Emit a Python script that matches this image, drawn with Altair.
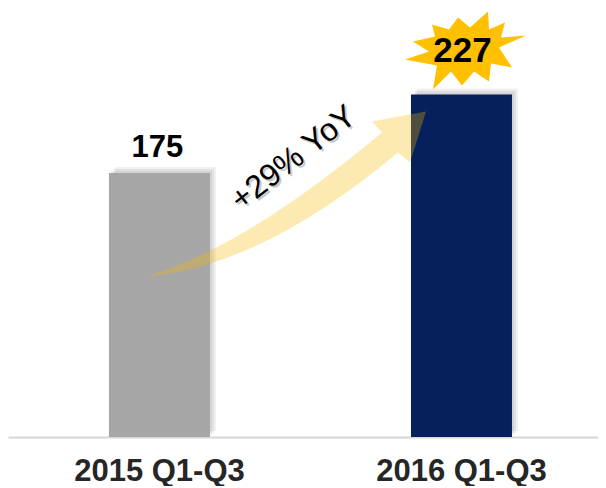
import altair as alt
import pandas as pd

# ---- data ----
periods = ["2015 Q1-Q3", "2016 Q1-Q3"]
values = [175, 227]
bar_colors = ["#a6a6a6", "#05205c"]
growth_text = "+29% YoY"

df = pd.DataFrame({"period": periods, "value": values})

FONT = "Liberation Sans"

# decorative shapes (symbol paths in the [-1, 1] unit box)
ARROW = ("M -1.007 0.586 Q -0.179 0.521 0.8 -0.3 L 0.886 -0.229 L 1 -0.593 "
         "L 0.614 -0.521 L 0.686 -0.443 Q -0.314 0.393 -1.007 0.586 Z")
_star_px = [(59, -14), (32, -2), (45, 18), (24, 14), (22, 32), (7, 22), (-5, 36),
            (-16, 22), (-34, 40), (-30, 16), (-62, 10), (-38, 2), (-54, -8),
            (-32, -13), (-35, -25), (-18, -20), (-9, -32), (3, -22), (21, -38),
            (22, -20), (38, -27), (34, -12)]
STAR = "M " + " L ".join(f"{x/60:.3f} {y/60:.3f}" for x, y in _star_px) + " Z"

x_enc = alt.X(
    "period:N", sort=periods,
    scale=alt.Scale(paddingInner=0.6656, paddingOuter=0.3096, align=0.54),
    axis=alt.Axis(title=None, ticks=False, tickSize=0, labelPadding=19,
                  labelFontSize=31, labelFontWeight="bold", labelColor="#262626",
                  labelFont=FONT, labelAngle=0, domainColor="#d6d6d6",
                  domainWidth=2, grid=False),
)
y_enc = alt.Y("value:Q", scale=alt.Scale(domain=[0, 284.3], nice=False), axis=None)

base = alt.Chart(df).encode(x=x_enc, y=y_enc)
sel15 = base.transform_filter(alt.datum.period == periods[0])
sel16 = base.transform_filter(alt.datum.period == periods[1])

shadows = [
    base.mark_bar(color="#000000", opacity=0.06, xOffset=d, yOffset=-d)
    for d in (2, 4, 6)
]

bars = base.mark_bar().encode(
    color=alt.Color("period:N", scale=alt.Scale(domain=periods, range=bar_colors),
                    legend=None)
)

arrow = sel16.mark_point(shape=ARROW, size=78400, filled=True, color="#f8b900",
                         opacity=0.3, strokeWidth=0, xOffset=-175.5, yOffset=100)

star = sel16.mark_point(shape=STAR, size=14400, filled=True, color="#ffc000",
                        opacity=1, strokeWidth=0, xOffset=5.5, yOffset=-45)

growth_shadow = sel16.mark_text(text=growth_text, font=FONT, fontSize=32, angle=322,
                                align="center", baseline="middle", color="#888888",
                                opacity=0.45, xOffset=-166, yOffset=65.5)
growth = sel16.mark_text(text=growth_text, font=FONT, fontSize=32, angle=322,
                         align="center", baseline="middle", color="#000000",
                         xOffset=-168, yOffset=63.5)

label15 = sel15.mark_text(font=FONT, fontSize=31, fontWeight="bold", color="#000000",
                          baseline="alphabetic", dy=-16, xOffset=-2).encode(text="value:Q")
label16 = sel16.mark_text(font=FONT, fontSize=35, fontWeight="bold", color="#000000",
                          baseline="alphabetic", dy=-32, xOffset=1).encode(text="value:Q")

chart = alt.layer(
    *shadows, bars, arrow, star, growth_shadow, growth, label15, label16
).properties(width=590, height=429, padding=0).configure_view(stroke=None)

chart.save("out.html", embed_options={"renderer": "svg", "actions": False})
